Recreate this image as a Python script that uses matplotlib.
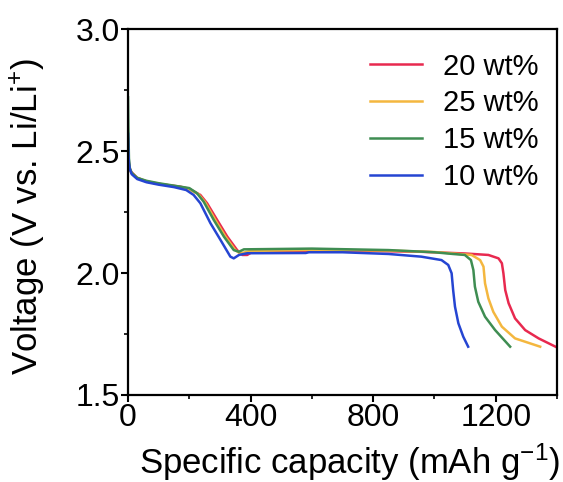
import numpy as np
import matplotlib
matplotlib.use("Agg")
import matplotlib.pyplot as plt
from matplotlib.ticker import MultipleLocator

plt.rcParams["font.family"] = ["Liberation Sans", "DejaVu Sans"]
plt.rcParams["mathtext.fontset"] = "custom"
plt.rcParams["mathtext.rm"] = "Liberation Sans"
plt.rcParams["mathtext.it"] = "Liberation Sans:italic"

# discharge curves (capacity mAh/g, voltage V)
cap_20 = [0, 2, 5, 10, 30, 60, 100, 170, 200, 236, 258, 291, 324, 356, 373, 389, 406,
          600, 800, 957, 1100, 1176, 1209, 1220, 1225, 1231, 1242, 1263, 1296, 1340, 1395]
v_20 = [2.55, 2.46, 2.43, 2.415, 2.39, 2.375, 2.365, 2.354, 2.345, 2.32, 2.286, 2.217, 2.149, 2.094, 2.074, 2.074, 2.087,
        2.09, 2.09, 2.087, 2.08, 2.074, 2.06, 2.04, 1.999, 1.93, 1.876, 1.814, 1.766, 1.732, 1.698]

cap_25 = [0, 2, 5, 10, 30, 60, 100, 150, 192, 230, 252, 285, 318, 350, 366, 382, 398,
          600, 850, 1000, 1121, 1149, 1160, 1165, 1176, 1192, 1220, 1263, 1345]
v_25 = [2.5, 2.45, 2.43, 2.412, 2.39, 2.376, 2.366, 2.356, 2.347, 2.323, 2.289, 2.217, 2.149, 2.094, 2.08, 2.085, 2.09,
        2.095, 2.092, 2.086, 2.074, 2.053, 2.026, 1.958, 1.896, 1.841, 1.78, 1.732, 1.698]

cap_15 = [0, 1, 3, 6, 12, 30, 60, 100, 150, 200, 225, 247, 280, 313, 345, 362, 378,
          600, 850, 1000, 1060, 1099, 1119, 1127, 1132, 1143, 1165, 1198, 1247]
v_15 = [2.72, 2.6, 2.47, 2.43, 2.41, 2.39, 2.378, 2.368, 2.358, 2.348, 2.327, 2.292, 2.217, 2.149, 2.094, 2.087, 2.097,
        2.1, 2.094, 2.085, 2.078, 2.074, 2.053, 2.012, 1.944, 1.882, 1.821, 1.766, 1.698]

cap_10 = [0, 1, 3, 6, 12, 30, 60, 100, 150, 190, 214, 236, 269, 302, 334, 345, 362, 389,
          580, 590, 700, 850, 957, 1023, 1045, 1056, 1061, 1067, 1078, 1094, 1110]
v_10 = [2.57, 2.5, 2.45, 2.425, 2.405, 2.385, 2.372, 2.362, 2.352, 2.34, 2.32, 2.286, 2.204, 2.135, 2.067, 2.06, 2.074, 2.081,
        2.082, 2.085, 2.085, 2.078, 2.067, 2.053, 2.033, 1.999, 1.93, 1.862, 1.794, 1.739, 1.698]

labels = ["20 wt%", "25 wt%", "15 wt%", "10 wt%"]
colors = ["#E8294F", "#F4B73F", "#3F8D52", "#2545D2"]

fig = plt.figure(figsize=(5.63, 4.82), dpi=100)
ax = fig.add_axes([0.2274, 0.1805, 0.762, 0.7593])

for c, v, lab, col in zip([cap_20, cap_25, cap_15, cap_10], [v_20, v_25, v_15, v_10], labels, colors):
    ax.plot(c, v, color=col, lw=1.8, label=lab)

ax.set_xlim(0, 1400)
ax.set_ylim(1.5, 3.0)
ax.xaxis.set_major_locator(MultipleLocator(400))
ax.xaxis.set_minor_locator(MultipleLocator(200))
ax.yaxis.set_major_locator(MultipleLocator(0.5))
ax.yaxis.set_minor_locator(MultipleLocator(0.25))
ax.yaxis.set_major_formatter(matplotlib.ticker.FormatStrFormatter("%.1f"))

for s in ax.spines.values():
    s.set_linewidth(1.6)
ax.tick_params(which="major", direction="out", length=5, width=1.5, labelsize=23, pad=1)
ax.tick_params(which="minor", direction="out", length=3, width=1.2)

ax.set_xlabel("Specific capacity (mAh g$^{-1}$)", fontsize=25)
ax.set_ylabel("Voltage (V vs. Li/Li$^{+}$)", fontsize=25)
ax.xaxis.set_label_coords(0.517, -0.126)
ax.yaxis.set_label_coords(-0.189, 0.486)

ax.legend(loc="upper right", bbox_to_anchor=(1.018, 1.007), frameon=False, fontsize=21,
          handlelength=1.8, handletextpad=0.7, labelspacing=0.3)

fig.savefig("out.png", dpi=100)
